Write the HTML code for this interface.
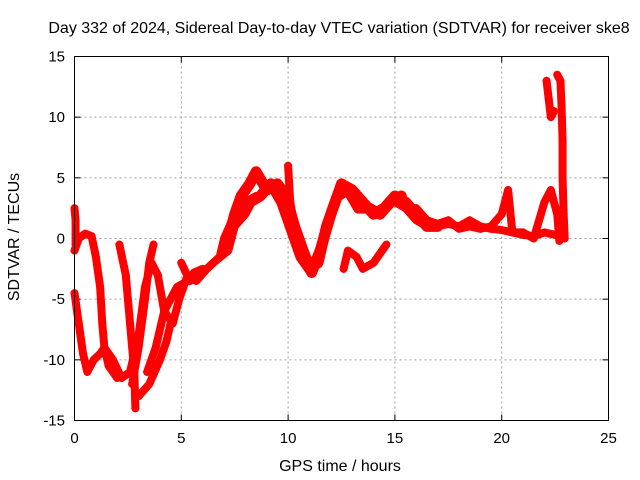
<!DOCTYPE html>
<html><head><meta charset="utf-8"><style>
body{margin:0;background:#fff;}
svg{display:block;font-family:"Liberation Sans",sans-serif;}
</style></head><body>
<svg id="chart" width="640" height="480">
<text x="339" y="33" text-anchor="middle" font-size="16">Day 332 of 2024, Sidereal Day-to-day VTEC variation (SDTVAR) for receiver ske8</text>
<text x="340" y="471" text-anchor="middle" font-size="16">GPS time / hours</text>
<text transform="translate(19,237) rotate(-90)" text-anchor="middle" font-size="16">SDTVAR / TECUs</text>
<g id="grid"></g><g id="ticks"></g><g id="marks"></g>
<rect x="74.5" y="56.5" width="534" height="364" fill="none" stroke="#000"/>
</svg>
<script>
const xTicks=[0,5,10,15,20,25];
const yTicks=[-15,-10,-5,0,5,10,15];
const trackA=[[0,-1],[0.2,0],[0.5,0.4],[0.8,0.2],[1.0,-1.5],[1.2,-4],[1.3,-7],[1.4,-9],[1.6,-10.5],[2,-11.5]];
const trackB=[[0,-4.5],[0.2,-7],[0.4,-9.5],[0.6,-11],[0.9,-10],[1.2,-9.5],[1.4,-9],[1.8,-10],[2.2,-11.5],[2.6,-11],[3,-8],[3.3,-4],[3.6,-2],[3.9,-3],[4.2,-6],[4.6,-7],[4.9,-5],[5.3,-3],[5.7,-3.5],[6.2,-2.5],[6.8,-1.5],[7.0,0],[7.5,2],[8,3],[8.5,3.5]];
const trackC=[[2.1,-0.5],[2.4,-3],[2.6,-7],[2.8,-11],[2.85,-14]];
const trackD=[[2.7,-12],[3.0,-9],[3.3,-5],[3.5,-2],[3.7,-0.5]];
const trackE=[[3.0,-13],[3.5,-12],[4.0,-10],[4.3,-8.5],[4.5,-7]];
const trackF=[[3.4,-11],[3.8,-9],[4.2,-6],[4.8,-4],[5.3,-3.5],[5.6,-2.8],[6,-2.5]];
const trackG=[[5.0,-2],[5.4,-3.5],[5.9,-3],[6.5,-2],[7.2,-1],[7.5,1],[8,2],[8.3,3]];
const trackH=[[7.2,0],[7.5,2],[7.8,3.5],[8.2,4.5],[8.5,5.5],[9,4],[9.5,4.5],[9.9,3.5],[10.3,1],[10.7,-1],[11.1,-2.8],[11.5,-1],[12,2],[12.5,4.5],[13,4],[13.5,3],[14,2],[14.5,2.5],[15,3.5],[15.5,3],[16,2],[16.5,1],[17,1]];
const trackI=[[7.7,2],[8.2,3],[8.7,3.5],[9.2,4.5],[9.7,3],[10.2,0.5],[10.6,-1.5],[11,-2.5],[11.4,-2],[11.8,1],[12.3,3.5],[12.8,4],[13.3,2.5],[13.8,2.5],[14.3,2],[14.8,3],[15.3,3.5]];
const trackJ=[[10,6],[10.1,3],[10.3,1]];
const trackK=[[12.6,-2.5],[12.8,-1],[13.2,-1.5],[13.5,-2.5],[14,-2],[14.6,-0.5]];
const trackL=[[15,3],[15.5,2.5],[16,1.5],[16.5,1],[17,1],[17.5,1.2],[18,1],[18.5,1.5],[19,1],[19.5,0.8],[20,0.7],[20.5,0.5],[21,0.3],[21.5,0.2],[22,0.5],[22.5,0.3],[22.8,0.5]];
const trackM=[[16,2.5],[16.5,1.5],[17,1.2],[17.5,1.5],[18,0.8],[18.5,1],[19,0.8],[19.5,1],[20,2],[20.3,4],[20.5,0.5],[21,0.5],[21.5,0],[22,3],[22.3,4],[22.6,2],[22.7,-0.2]];
const trackN1=[[22.1,13],[22.2,11.5],[22.3,10],[22.45,10.5]];
const trackN2=[[22.6,13.5],[22.75,13],[22.8,11],[22.85,8],[22.85,5],[22.9,2],[22.95,0]];
const trackZ=[[0,2.5],[0.05,1.5],[0.05,-0.5]];
const tracks=[trackA,trackB,trackC,trackD,trackE,trackF,trackG,trackH,trackI,trackJ,trackK,trackL,trackM,trackN1,trackN2,trackZ];
const wide=[7,8];

const X0=74.5,X1=608.5,Y0=420.5,Y1=56.5;
const sx=t=>X0+(t-0)/25*(X1-X0);
const sy=v=>Y0-(v+15)/30*(Y0-Y1);
const NS='http://www.w3.org/2000/svg';
const grid=document.getElementById('grid'),ticks=document.getElementById('ticks'),marks=document.getElementById('marks');
function mk(tag,at,parent){const e=document.createElementNS(NS,tag);for(const k in at)e.setAttribute(k,at[k]);parent.appendChild(e);return e;}
xTicks.forEach(t=>{
  const x=sx(t);
  if(t>0&&t<25){const g=mk('line',{x1:x,x2:x,y1:Y1,y2:Y0,stroke:'#a0a0a0','stroke-dasharray':'2,3'},grid);
  
  }
  mk('line',{x1:x,x2:x,y1:Y0,y2:Y0-6,stroke:'#000'},ticks);
  mk('line',{x1:x,x2:x,y1:Y1,y2:Y1+6,stroke:'#000'},ticks);
  const l=mk('text',{x:x,y:443,'text-anchor':'middle','font-size':15},ticks);l.textContent=t;
  
  
});
yTicks.forEach(v=>{
  const y=sy(v);
  if(v>-15&&v<15){const g=mk('line',{x1:X0,x2:X1,y1:y,y2:y,stroke:'#a0a0a0','stroke-dasharray':'2,3'},grid);
  
  }
  mk('line',{x1:X0,x2:X0+6,y1:y,y2:y,stroke:'#000'},ticks);
  mk('line',{x1:X1,x2:X1-6,y1:y,y2:y,stroke:'#000'},ticks);
  const l=mk('text',{x:65,y:y+5,'text-anchor':'end','font-size':15},ticks);l.textContent=v;
  
  
});
tracks.forEach((tr,i)=>{
  const w=wide.includes(i)?11:8;
  const p=mk('polyline',{points:tr.map(d=>sx(d[0])+','+sy(d[1])).join(' '),fill:'none',stroke:'#f00','stroke-width':w,'stroke-linejoin':'round','stroke-linecap':'round'},marks);
  
  
  tr.forEach(d=>{
    const x=sx(d[0]),y=sy(d[1]);
    const m=mk('path',{d:`M${x-4},${y}H${x+4}M${x},${y-4}V${y+4}`,stroke:'#f00','stroke-width':1.2},marks);
    
    
  });
});
</script>
</body></html>
